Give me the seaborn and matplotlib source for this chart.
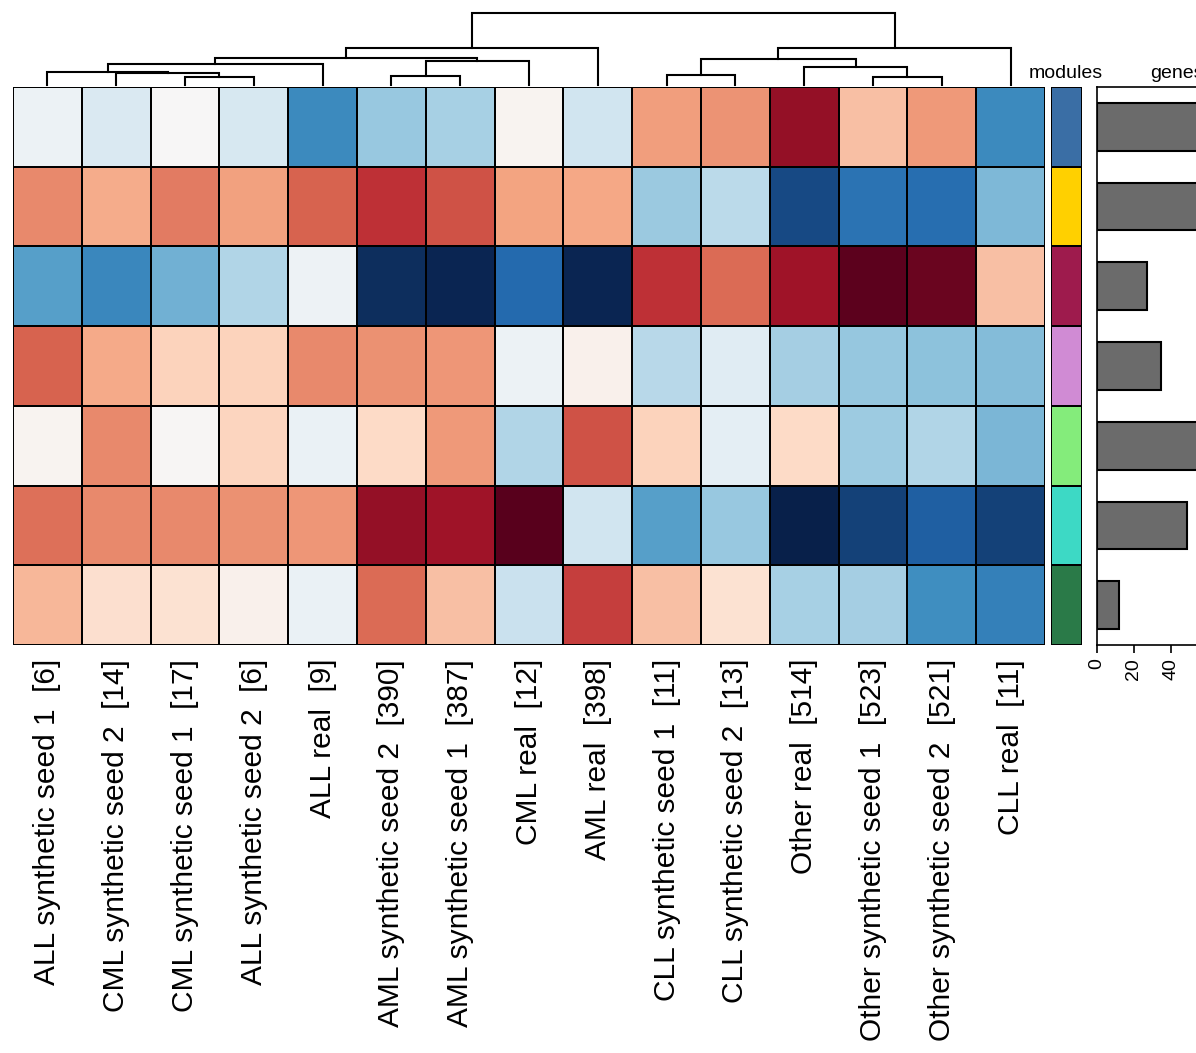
import numpy as np
import pandas as pd
import seaborn as sns
import matplotlib.pyplot as plt
from matplotlib.colors import ListedColormap, LinearSegmentedColormap

# column labels in dendrogram order
samples = ["ALL synthetic seed 1  [6]", "CML synthetic seed 2  [14]", "CML synthetic seed 1  [17]",
           "ALL synthetic seed 2  [6]", "ALL real  [9]", "AML synthetic seed 2  [390]",
           "AML synthetic seed 1  [387]", "CML real  [12]", "AML real  [398]",
           "CLL synthetic seed 1  [11]", "CLL synthetic seed 2  [13]", "Other real  [514]",
           "Other synthetic seed 1  [523]", "Other synthetic seed 2  [521]", "CLL real  [11]"]

modules = ["steelblue", "gold", "maroon", "plum", "lightgreen", "turquoise", "seagreen"]
module_colors = ["#3a6ea5", "#ffd000", "#9e1b4d", "#d08bd4", "#84ec7b", "#3dd9c5", "#2a7a48"]
genes = [75, 66, 27, 35, 80, 49, 12]

# module eigengene scores, one row per module
scores = [
    [-0.06, -0.15, 0.00, -0.17, -0.64, -0.38, -0.33, 0.03, -0.20, 0.42, 0.45, 0.86, 0.30, 0.43, -0.64],
    [0.48, 0.37, 0.52, 0.41, 0.59, 0.73, 0.64, 0.40, 0.39, -0.37, -0.27, -0.88, -0.74, -0.76, -0.45],
    [-0.55, -0.65, -0.48, -0.30, -0.05, -0.96, -0.98, -0.78, -0.98, 0.73, 0.57, 0.84, 0.99, 0.96, 0.30],
    [0.59, 0.38, 0.23, 0.23, 0.48, 0.46, 0.44, -0.06, 0.05, -0.28, -0.12, -0.34, -0.39, -0.41, -0.43],
    [0.03, 0.48, 0.01, 0.22, -0.07, 0.20, 0.43, -0.30, 0.64, 0.23, -0.10, 0.20, -0.36, -0.30, -0.46],
    [0.55, 0.48, 0.48, 0.46, 0.44, 0.86, 0.84, 1.00, -0.20, -0.55, -0.38, -1.00, -0.90, -0.82, -0.90],
    [0.33, 0.17, 0.15, 0.05, -0.07, 0.57, 0.30, -0.22, 0.69, 0.30, 0.15, -0.33, -0.34, -0.62, -0.68],
]

# dendrogram merges: leaves are 0..14, merge k creates node 15+k
merge_left = [2, 1, 0, 17, 5, 19, 18, 21, 9, 12, 11, 23, 26, 22]
merge_right = [3, 15, 16, 4, 6, 7, 20, 8, 10, 13, 24, 25, 14, 27]
merge_height = [8, 12, 13, 21, 9, 24, 27, 37, 10, 8, 18, 26, 37, 72]

W, H = 1196, 1053
fig = plt.figure(figsize=(W / 100, H / 100), dpi=100)
plt.rcParams['font.family'] = ['Liberation Sans', 'DejaVu Sans']


def box(x0, y0, x1, y1):
    # pixel box -> figure fraction rect
    return [x0 / W, 1 - y1 / H, (x1 - x0) / W, (y1 - y0) / H]


cmap = LinearSegmentedColormap.from_list(
    "rdbu", ["#08204a", "#2166ac", "#4393c3", "#92c5de", "#d1e5f0", "#f7f7f7",
             "#fddbc7", "#f4a582", "#d6604d", "#b2182b", "#58001c"])

# main heatmap
ax_hm = fig.add_axes(box(13, 87, 1045, 645))
df = pd.DataFrame(scores, index=modules, columns=samples)
sns.heatmap(df, ax=ax_hm, cmap=cmap, vmin=-1, vmax=1, cbar=False,
            linewidths=1.2, linecolor="black", xticklabels=True, yticklabels=False)
ax_hm.tick_params(axis="x", length=0, pad=10, labelsize=21.5, rotation=90)
ax_hm.set_xlabel("")
ax_hm.set_ylabel("")

# dendrogram on top
ax_d = fig.add_axes(box(13, 13, 1045, 85))
xpos = {i: i + 0.5 for i in range(len(samples))}
hpos = {i: 0 for i in range(len(samples))}
for k, (a, b, h) in enumerate(zip(merge_left, merge_right, merge_height)):
    ax_d.plot([xpos[a], xpos[a], xpos[b], xpos[b]], [hpos[a], h, h, hpos[b]],
              color="black", lw=1.5, clip_on=False, solid_joinstyle="miter")
    xpos[15 + k] = (xpos[a] + xpos[b]) / 2
    hpos[15 + k] = h
ax_d.set_xlim(0, len(samples))
ax_d.set_ylim(0, max(merge_height))
ax_d.axis("off")

# module colour strip
ax_m = fig.add_axes(box(1051, 87, 1082, 645))
sns.heatmap(pd.DataFrame({"m": range(len(modules))}), ax=ax_m, cmap=ListedColormap(module_colors),
            cbar=False, linewidths=1.2, linecolor="black", xticklabels=False, yticklabels=False)
ax_m.set_xlabel("")
ax_m.set_ylabel("")
fig.text(1066 / W, 1 - 82 / H, "modules", ha="center", va="bottom", fontsize=14)

# gene count bars
ax_b = fig.add_axes(box(1097, 87, 1257, 645))
sns.barplot(x=genes, y=modules, orient="h", ax=ax_b, color="#6b6b6b", saturation=1,
            width=0.6, edgecolor="black", linewidth=1.5)
ax_b.set_xlim(0, 87)
ax_b.set_xticks([0, 20, 40, 60, 80])
ax_b.tick_params(axis="x", labelsize=14, rotation=90, length=6, width=1.2, direction="out")
ax_b.set_yticks([])
ax_b.set_xlabel("")
ax_b.set_ylabel("")
for s in ax_b.spines.values():
    s.set_linewidth(1.2)
fig.text(1177 / W, 1 - 82 / H, "genes", ha="center", va="bottom", fontsize=14)

plt.savefig("out.png", dpi=100)
